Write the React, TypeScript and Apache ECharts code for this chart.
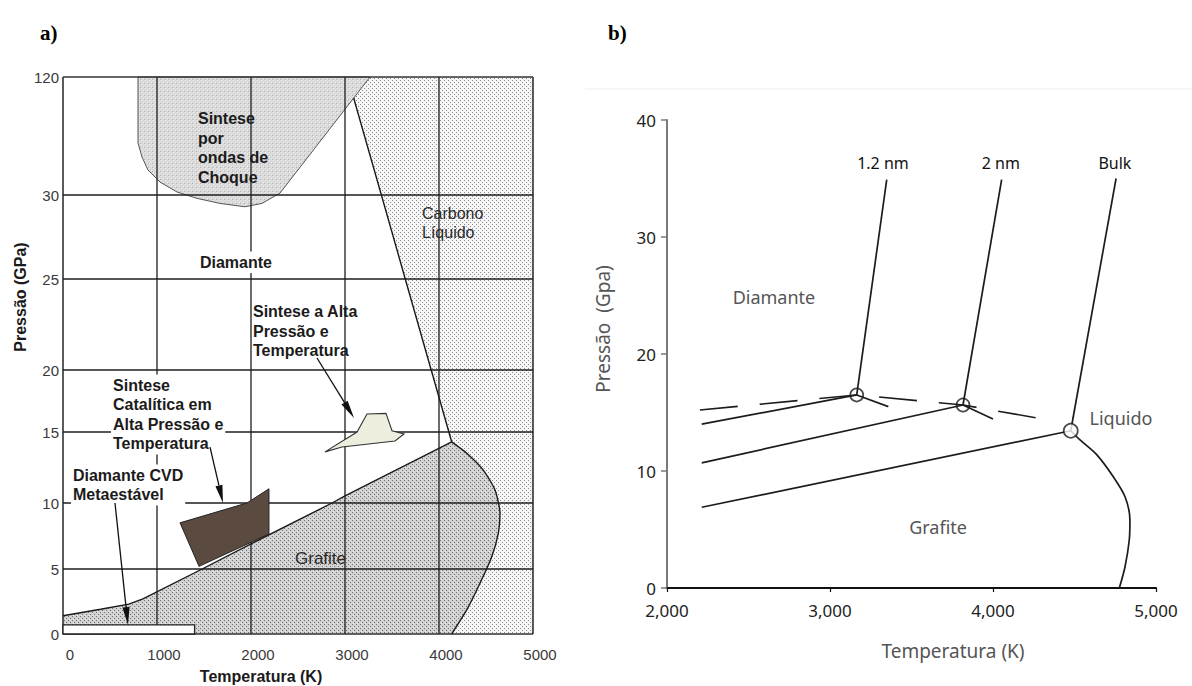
import React, { useEffect, useRef } from 'react';
import * as echarts from 'echarts';

const SANS_A = '"Liberation Sans", Arial, Helvetica, sans-serif';
const SANS_B = '"Noto Sans", "Open Sans", sans-serif';
const SERIF = '"Liberation Serif", "Times New Roman", serif';

// ---------------- Panel a: carbon phase diagram with synthesis routes ----------------
const aPressureTicks = [0, 5, 10, 15, 20, 25, 30, 120];
const aTempGrid = [0, 1000, 2000, 3000, 4000, 5000];
const aPressureGrid = [0, 5, 10, 15, 20, 25, 30, 120];

// diamond / graphite equilibrium line
const aDiaGraT = [0, 400, 700, 850, 1480, 2000, 2862, 3000, 4135];
const aDiaGraP = [1.4, 1.9, 2.3, 2.7, 5.0, 6.9, 10.0, 10.5, 14.3];
// diamond / liquid line
const aDiaLiqT = [3092, 3387, 3641, 3917, 4105, 4135];
const aDiaLiqP = [104, 30, 25, 20, 15, 14.3];
// graphite / liquid line
const aGraLiqT = [4135, 4295, 4471, 4596, 4649, 4631, 4561, 4436, 4295, 4135];
const aGraLiqP = [14.3, 13.5, 12.32, 10.92, 9.22, 7.7, 5.93, 3.9, 1.85, 0];
// shock-wave synthesis region
const aShockT = [798, 798, 840, 904, 1032, 1213, 1426, 1670, 1936, 2117, 2309, 3266];
const aShockP = [120, 69.7, 59.0, 49.1, 39.9, 32.3, 29.8, 29.5, 29.3, 29.5, 31.5, 120];
// high pressure / high temperature synthesis region
const aHphtT = [2787, 3128, 3234, 3436, 3500, 3628, 3532, 2968];
const aHphtP = [13.6, 15, 16.45, 16.5, 15.1, 14.86, 14.37, 13.94];
// catalytic HPHT region
const aCatT = [1245, 1957, 2191, 2191, 1447];
const aCatP = [8.5, 10.0, 11.0, 7.65, 5.2];
// metastable CVD diamond region
const aCvdT = [0, 1400, 1400, 0];
const aCvdP = [0, 0, 0.7, 0.7];

// arrows (tail -> head)
const aArrowFromT = [2702, 1564, 553];
const aArrowFromP = [20.66, 13.94, 10.0];
const aArrowToT = [3096, 1702, 691];
const aArrowToP = [16.13, 10.0, 0.69];

// region labels (anchored at their top-left corner)
const aLabelText = [
  'Sintese\npor\nondas de\nChoque',
  'Diamante',
  'Carbono\nLíquido',
  'Sintese a Alta\nPressão e\nTemperatura',
  'Sintese\nCatalítica em\nAlta Pressão e\nTemperatura',
  'Diamante CVD\nMetaestável',
  'Grafite',
];
const aLabelT = [1436, 1457, 3819, 2021, 532, 106, 2468];
const aLabelP = [95.6, 26.58, 29.49, 23.74, 19.56, 12.64, 6.52];

// ---------------- Panel b: size-dependent phase diagram ----------------
const bBulkSolidT = [2213, 4477];
const bBulkSolidP = [6.9, 13.44];
const bBulkMeltT = [4477, 4755];
const bBulkMeltP = [13.44, 35.0];
const bBulkGraLiqT = [4477, 4534, 4636, 4738, 4810, 4840, 4836, 4810, 4775];
const bBulkGraLiqP = [13.44, 12.65, 11.4, 9.51, 7.8, 5.82, 4.1, 1.82, 0];

const b2nmSolidT = [2213, 3816];
const b2nmSolidP = [10.7, 15.64];
const b2nmMeltT = [3816, 4053];
const b2nmMeltP = [15.64, 34.9];
const b2nmGraLiqT = [3816, 4000];
const b2nmGraLiqP = [15.64, 14.44];

const b12SolidT = [2213, 3164];
const b12SolidP = [14.0, 16.5];
const b12MeltT = [3164, 3348];
const b12MeltP = [16.5, 34.9];
const b12GraLiqT = [3164, 3358];
const b12GraLiqP = [16.5, 15.5];

const bDashedT = [2202, 3164, 3816, 4307];
const bDashedP = [15.21, 16.5, 15.64, 14.44];

const bNanoTripleT = [3164, 3816];
const bNanoTripleP = [16.5, 15.64];
const bBulkTripleT = [4477];
const bBulkTripleP = [13.44];

const bLabelText = ['1.2 nm', '2 nm', 'Bulk', 'Diamante', 'Grafite', 'Liquido'];
const bLabelT = [3325, 4048, 4748, 2656, 3663, 4785];
const bLabelP = [36.3, 36.3, 36.3, 24.9, 5.2, 14.5];

// Pressure scale of panel a: uneven spacing between its ticks (axis units)
const aScaleSteps = [0, 65, 131, 202, 264, 355, 439, 557];
const aScaleTop = 557;

function aY(p: number): number {
  for (let i = 1; i < aPressureTicks.length; i++) {
    if (p <= aPressureTicks[i] || i === aPressureTicks.length - 1) {
      const p0 = aPressureTicks[i - 1];
      const p1 = aPressureTicks[i];
      const s0 = aScaleSteps[i - 1];
      const s1 = aScaleSteps[i];
      return s0 + ((p - p0) / (p1 - p0)) * (s1 - s0);
    }
  }
  return 0;
}

function dotPattern(bg: string, dots: [number, number, string][], size: number) {
  const c = document.createElement('canvas');
  c.width = size;
  c.height = size;
  const ctx = c.getContext('2d')!;
  ctx.fillStyle = bg;
  ctx.fillRect(0, 0, size, size);
  dots.forEach(([x, y, col]) => {
    ctx.fillStyle = col;
    ctx.fillRect(x, y, 1, 1);
  });
  return { image: c.toDataURL(), repeat: 'repeat', imageWidth: size, imageHeight: size };
}

function zipA(xs: number[], ys: number[]) {
  return xs.map((x, i) => [x, aY(ys[i])]);
}
function zipB(xs: number[], ys: number[]) {
  return xs.map((x, i) => [x, ys[i]]);
}

function polygonA(name: string, pts: number[][], style: any, z: number) {
  return {
    type: 'custom',
    name,
    xAxisIndex: 0,
    yAxisIndex: 0,
    z,
    silent: true,
    data: [pts[0]],
    renderItem: (_p: any, api: any) => ({
      type: 'polygon',
      shape: { points: pts.map((pt) => api.coord(pt)) },
      style,
    }),
  };
}

function lineA(name: string, data: number[][], z: number, smooth = 0) {
  return {
    type: 'line',
    name,
    xAxisIndex: 0,
    yAxisIndex: 0,
    z,
    silent: true,
    symbol: 'none',
    smooth,
    data,
    lineStyle: { color: '#1a1a1a', width: 1.4 },
  };
}

function lineB(name: string, data: number[][], extra: any = {}) {
  return {
    type: 'line',
    name,
    xAxisIndex: 1,
    yAxisIndex: 1,
    z: 4,
    silent: true,
    symbol: 'none',
    data,
    lineStyle: { color: '#1c1c1c', width: 1.7 },
    ...extra,
  };
}

export default function App() {
  const ref = useRef<HTMLDivElement>(null);

  useEffect(() => {
    if (!ref.current) return;
    const chart = echarts.init(ref.current, undefined, { renderer: 'svg' });

    const liquidFill = dotPattern('#f6f6f6', [[0, 0, '#8c8c8c'], [2, 2, '#8c8c8c']], 4);
    const graphiteFill = dotPattern('#d2d2d2', [[0, 0, '#707070'], [2, 2, '#707070'], [1, 3, '#e8e8e8']], 4);
    const shockFill = dotPattern('#d9d9d9', [[1, 0, '#efefef'], [3, 2, '#efefef'], [0, 3, '#b4b4b4']], 4);

    const liquidPts = [
      [3266, aY(120)],
      ...zipA(aDiaLiqT, aDiaLiqP),
      ...zipA(aGraLiqT.slice(1), aGraLiqP.slice(1)),
      [5000, aY(0)],
      [5000, aY(120)],
    ];
    const graphitePts = [
      [0, aY(0)],
      ...zipA(aDiaGraT, aDiaGraP),
      ...zipA(aGraLiqT.slice(1), aGraLiqP.slice(1)),
    ];

    // bold / boxed styling of the panel a labels
    const aLabelStyle = [
      { bold: true, size: 16, box: false },
      { bold: true, size: 16, box: true },
      { bold: false, size: 16, box: false },
      { bold: true, size: 16, box: false },
      { bold: true, size: 16, box: true },
      { bold: true, size: 16, box: true },
      { bold: false, size: 17, box: false },
    ];

    const gridLines: number[][] = [
      ...aTempGrid.map((t) => [0, t]),
      ...aPressureGrid.map((p) => [1, p]),
    ];

    const option: any = {
      animation: false,
      backgroundColor: '#ffffff',
      grid: [
        { left: 63, top: 77, width: 470, height: 557 },
        { left: 667, top: 120, width: 489, height: 468 },
      ],
      xAxis: [
        {
          gridIndex: 0,
          type: 'value',
          min: 0,
          max: 5000,
          interval: 1000,
          axisLine: { show: false },
          axisTick: { show: false },
          splitLine: { show: false },
          axisLabel: {
            color: '#3a3a3a',
            fontSize: 15,
            fontFamily: SANS_A,
            margin: 13,
            padding: [0, 0, 0, 14],
            formatter: (v: number) => String(v),
          },
        },
        {
          gridIndex: 1,
          type: 'value',
          min: 2000,
          max: 5000,
          interval: 1000,
          axisLine: { show: true, onZero: false, lineStyle: { color: '#111', width: 2.2 } },
          axisTick: { show: true, length: 4, lineStyle: { color: '#111', width: 1.2 } },
          splitLine: { show: false },
          axisLabel: {
            color: '#222',
            fontSize: 17,
            fontFamily: SANS_B,
            margin: 14,
            formatter: (v: number) => v.toLocaleString('en-US'),
          },
        },
      ],
      yAxis: [
        {
          gridIndex: 0,
          type: 'value',
          min: 0,
          max: aScaleTop,
          axisLine: { show: false },
          axisTick: { show: false },
          splitLine: { show: false },
          axisLabel: {
            customValues: aPressureTicks.map(aY),
            formatter: (v: number) => {
              const i = aPressureTicks.findIndex((p) => Math.abs(aY(p) - v) < 0.01);
              return i >= 0 ? String(aPressureTicks[i]) : '';
            },
            color: '#3a3a3a',
            fontSize: 15,
            fontFamily: SANS_A,
            margin: 4,
            padding: [10, 0, 0, 0],
          },
        },
        {
          gridIndex: 1,
          type: 'value',
          min: 0,
          max: 40,
          interval: 10,
          axisLine: { show: true, onZero: false, lineStyle: { color: '#7a7a7a', width: 2 } },
          axisTick: { show: true, length: 6, lineStyle: { color: '#7a7a7a', width: 1.5 } },
          splitLine: { show: false },
          axisLabel: { color: '#222', fontSize: 17, fontFamily: SANS_B, margin: 11 },
        },
      ],
      graphic: [
        {
          type: 'text',
          left: 40,
          top: 22,
          style: { text: 'a)', font: `bold 21px ${SERIF}`, fill: '#000' },
        },
        {
          type: 'text',
          left: 608,
          top: 22,
          style: { text: 'b)', font: `bold 21px ${SERIF}`, fill: '#000' },
        },
        {
          type: 'text',
          x: 20,
          y: 297,
          rotation: Math.PI / 2,
          style: {
            text: 'Pressão (GPa)',
            font: `bold 16px ${SANS_A}`,
            fill: '#1a1a1a',
            align: 'center',
            verticalAlign: 'middle',
          },
        },
        {
          type: 'text',
          x: 261,
          y: 676,
          style: {
            text: 'Temperatura (K)',
            font: `bold 16px ${SANS_A}`,
            fill: '#1a1a1a',
            align: 'center',
            verticalAlign: 'middle',
          },
        },
        {
          type: 'text',
          x: 603,
          y: 329,
          rotation: Math.PI / 2,
          style: {
            text: 'Pressão  (Gpa)',
            font: `19px ${SANS_B}`,
            fill: '#555',
            align: 'center',
            verticalAlign: 'middle',
          },
        },
        {
          type: 'text',
          x: 953,
          y: 651,
          style: {
            text: 'Temperatura (K)',
            font: `19px ${SANS_B}`,
            fill: '#555',
            align: 'center',
            verticalAlign: 'middle',
          },
        },
        {
          type: 'line',
          shape: { x1: 585, y1: 89, x2: 1192, y2: 89 },
          style: { stroke: '#efefef', lineWidth: 1 },
        },
      ],
      series: [
        // ---- panel a fills
        polygonA('Carbono Líquido', liquidPts, { fill: liquidFill }, 1),
        polygonA('Grafite', graphitePts, { fill: graphiteFill }, 1),
        polygonA('Ondas de choque', zipA(aShockT, aShockP), { fill: shockFill, stroke: '#555', lineWidth: 1 }, 1),
        // ---- panel a grid and frame
        {
          type: 'custom',
          name: 'grade',
          xAxisIndex: 0,
          yAxisIndex: 0,
          z: 3,
          silent: true,
          data: gridLines,
          renderItem: (params: any, api: any) => {
            const kind = api.value(0);
            const v = api.value(1);
            const frame = kind === 0 ? v === 0 || v === 5000 : v === 0 || v === 120;
            const a = kind === 0 ? api.coord([v, 0]) : api.coord([0, aY(v)]);
            const b = kind === 0 ? api.coord([v, aScaleTop]) : api.coord([5000, aY(v)]);
            return {
              type: 'line',
              shape: { x1: a[0], y1: a[1], x2: b[0], y2: b[1] },
              style: { stroke: frame ? '#333' : '#1e1e1e', lineWidth: frame ? 1.6 : 1.3 },
            };
          },
        },
        // ---- panel a phase boundaries
        lineA('Diamante/Grafite', zipA(aDiaGraT, aDiaGraP), 4),
        lineA('Diamante/Líquido', zipA(aDiaLiqT, aDiaLiqP), 4),
        lineA('Grafite/Líquido', zipA(aGraLiqT, aGraLiqP), 4, 0.2),
        // ---- panel a synthesis regions
        polygonA('Alta Pressão e Temperatura', zipA(aHphtT, aHphtP), { fill: '#eeeedf', stroke: '#333', lineWidth: 1.1 }, 5),
        polygonA('Catalítica', zipA(aCatT, aCatP), { fill: '#5a4a40', stroke: '#222', lineWidth: 1 }, 5),
        polygonA('CVD', zipA(aCvdT, aCvdP), { fill: '#ffffff', stroke: '#222', lineWidth: 1.3 }, 5),
        // ---- panel a labels
        {
          type: 'custom',
          name: 'rótulos a',
          xAxisIndex: 0,
          yAxisIndex: 0,
          z: 7,
          silent: true,
          data: zipA(aLabelT, aLabelP),
          renderItem: (params: any, api: any) => {
            const i = params.dataIndex;
            const st = aLabelStyle[i];
            const p = api.coord([api.value(0), api.value(1)]);
            return {
              type: 'text',
              x: p[0] - (st.box ? 2 : 0),
              y: p[1] - (st.box ? 1 : 0),
              style: {
                text: aLabelText[i],
                fontFamily: SANS_A,
                fontSize: st.size,
                fontWeight: st.bold ? 'bold' : 'normal',
                fill: st.bold ? '#1b1b1b' : '#2a2a2a',
                lineHeight: 19.5,
                align: 'left',
                verticalAlign: 'top',
                backgroundColor: st.box ? '#ffffff' : 'transparent',
                padding: st.box ? [1, 2, 1, 2] : 0,
              },
            };
          },
        },
        // ---- panel a arrows
        {
          type: 'custom',
          name: 'setas',
          xAxisIndex: 0,
          yAxisIndex: 0,
          z: 8,
          silent: true,
          data: aArrowFromT.map((t, i) => [t, aY(aArrowFromP[i]), aArrowToT[i], aY(aArrowToP[i])]),
          encode: { x: [0, 2], y: [1, 3] },
          renderItem: (_params: any, api: any) => {
            const a = api.coord([api.value(0), api.value(1)]);
            const b = api.coord([api.value(2), api.value(3)]);
            const dx = b[0] - a[0];
            const dy = b[1] - a[1];
            const len = Math.hypot(dx, dy);
            const ux = dx / len;
            const uy = dy / len;
            const hl = 18;
            const hw = 3.6;
            const base = [b[0] - ux * hl, b[1] - uy * hl];
            return {
              type: 'group',
              children: [
                {
                  type: 'line',
                  shape: { x1: a[0], y1: a[1], x2: base[0], y2: base[1] },
                  style: { stroke: '#111', lineWidth: 1.3 },
                },
                {
                  type: 'polygon',
                  shape: {
                    points: [
                      b,
                      [base[0] - uy * hw, base[1] + ux * hw],
                      [base[0] + uy * hw, base[1] - ux * hw],
                    ],
                  },
                  style: { fill: '#111' },
                },
              ],
            };
          },
        },

        // ---- panel b
        {
          type: 'scatter',
          name: 'ponto triplo nano',
          xAxisIndex: 1,
          yAxisIndex: 1,
          z: 3,
          silent: true,
          symbol: 'circle',
          symbolSize: 13,
          data: zipB(bNanoTripleT, bNanoTripleP),
          itemStyle: { color: 'rgba(255,255,255,0)', borderColor: '#1c1c1c', borderWidth: 1.7 },
        },
        lineB('1.2 nm sólido', zipB(b12SolidT, b12SolidP)),
        lineB('1.2 nm fusão', zipB(b12MeltT, b12MeltP)),
        lineB('1.2 nm grafite/líquido', zipB(b12GraLiqT, b12GraLiqP)),
        lineB('2 nm sólido', zipB(b2nmSolidT, b2nmSolidP)),
        lineB('2 nm fusão', zipB(b2nmMeltT, b2nmMeltP)),
        lineB('2 nm grafite/líquido', zipB(b2nmGraLiqT, b2nmGraLiqP)),
        lineB('Bulk sólido', zipB(bBulkSolidT, bBulkSolidP)),
        lineB('Bulk fusão', zipB(bBulkMeltT, bBulkMeltP)),
        lineB('Bulk grafite/líquido', zipB(bBulkGraLiqT, bBulkGraLiqP), { smooth: 0.3 }),
        lineB('metaestável', zipB(bDashedT, bDashedP), {
          lineStyle: { color: '#1c1c1c', width: 1.6, type: [38, 22] },
        }),
        {
          type: 'scatter',
          name: 'ponto triplo bulk',
          xAxisIndex: 1,
          yAxisIndex: 1,
          z: 6,
          silent: true,
          symbol: 'circle',
          symbolSize: 14,
          data: zipB(bBulkTripleT, bBulkTripleP),
          itemStyle: { color: '#ffffff', borderColor: '#1c1c1c', borderWidth: 1.8 },
        },
        {
          type: 'custom',
          name: 'rótulos b',
          xAxisIndex: 1,
          yAxisIndex: 1,
          z: 7,
          silent: true,
          data: zipB(bLabelT, bLabelP),
          renderItem: (params: any, api: any) => {
            const i = params.dataIndex;
            const p = api.coord([api.value(0), api.value(1)]);
            const size = i < 3 ? 16 : 18;
            return {
              type: 'text',
              x: p[0],
              y: p[1],
              style: {
                text: bLabelText[i],
                fontFamily: SANS_B,
                fontSize: size,
                fill: i < 3 ? '#111' : '#555',
                align: 'center',
                verticalAlign: 'middle',
              },
            };
          },
        },
      ],
    };

    chart.setOption(option);
    return () => chart.dispose();
  }, []);

  return (
    <div
      ref={ref}
      style={{ position: 'fixed', left: 0, top: 0, width: 1192, height: 686, background: '#fff' }}
    />
  );
}
